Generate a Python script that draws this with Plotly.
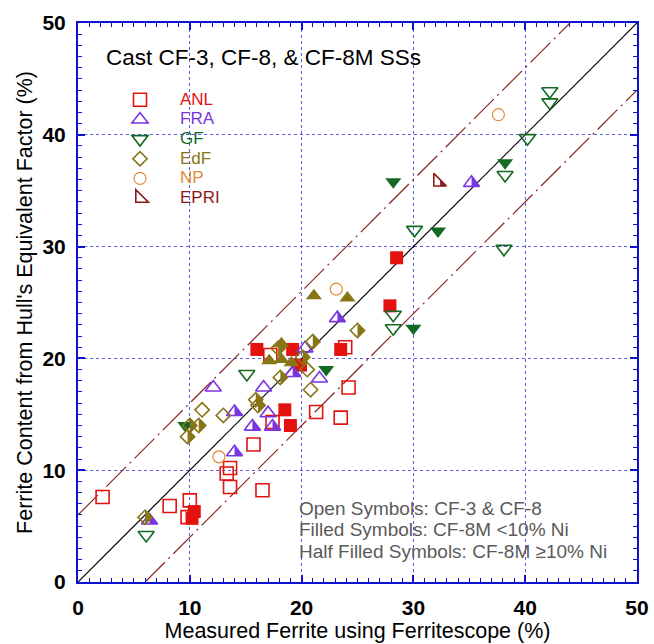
import plotly.graph_objects as go

# ---- data: measured ferrite (Ferritescope, %) vs. ferrite from Hull's equivalent factor (%) ----
anl_open_x = [2.2, 8.2, 10.0, 9.8, 13.6, 13.3, 13.6, 16.5, 15.7, 17.2, 17.4, 21.3, 23.5, 24.2, 23.9]
anl_open_y = [7.6, 6.8, 7.3, 5.8, 10.2, 9.7, 8.5, 8.2, 12.3, 20.3, 14.3, 15.2, 14.7, 17.4, 21.0]
anl_fill_x = [10.4, 10.2, 16.0, 19.2, 19.9, 18.5, 19.0, 23.5, 28.5, 27.9]
anl_fill_y = [6.3, 5.7, 20.8, 20.8, 19.4, 15.4, 14.0, 20.8, 29.0, 24.7]

fra_open_x = [12.1, 16.6, 17.0, 20.3, 21.6]
fra_open_y = [17.4, 17.4, 15.1, 20.9, 18.2]
fra_half_x = [6.4, 14.0, 14.0, 15.6, 17.4, 19.2, 23.2, 35.2]
fra_half_y = [5.5, 15.2, 11.6, 13.9, 13.9, 18.7, 23.6, 35.7]

gf_open_x = [6.1, 15.1, 28.2, 28.2, 30.1, 38.1, 38.2, 40.2, 42.2, 42.2]
gf_open_y = [4.2, 18.6, 23.9, 22.7, 31.5, 29.8, 36.4, 39.7, 43.9, 42.9]
gf_fill_x = [9.6, 22.2, 30.0, 28.2, 32.2, 38.2]
gf_fill_y = [14.0, 19.0, 22.7, 35.8, 31.4, 37.5]

edf_open_x = [11.1, 13.0, 20.5, 20.8]
edf_open_y = [15.4, 14.9, 19.0, 17.2]
edf_half_x = [6.0, 10.0, 9.8, 10.8, 15.9, 16.1, 18.1, 17.9, 20.1, 21.0, 25.0]
edf_half_y = [5.8, 14.0, 13.0, 14.0, 16.3, 15.8, 18.3, 20.9, 20.1, 21.5, 22.5]
edf_tri_x = [17.1, 18.2, 19.1, 18.2, 21.1, 24.1]
edf_tri_y = [19.8, 19.9, 19.6, 21.3, 25.6, 25.4]

np_x = [12.6, 23.1, 37.6]
np_y = [11.2, 26.2, 41.8]

epri_x = [32.2]
epri_y = [35.8]

# reference lines: 1:1 and +/- 6 % ferrite bands
line_offsets = [0, 6, -6]
axis_max = 50

labs = ["ANL", "FRA", "GF", "EdF", "NP", "EPRI"]
colors = {
    "ANL": "#E3120F",
    "FRA": "#7A35E0",
    "GF": "#146A22",
    "EdF": "#887516",
    "NP": "#E08A3C",
    "EPRI": "#8B1A1A",
}

note_lines = [
    "Open Symbols: CF-3 &amp; CF-8",
    "Filled Symbols: CF-8M &lt;10% Ni",
    "Half Filled Symbols: CF-8M ≥10% Ni",
]

FONT = "Arial, Liberation Sans, sans-serif"
W, H = 654, 644
ML, MR, MT, MB = 78, 17, 23, 62
PW, PH = W - ML - MR, H - MT - MB
PX = PW / axis_max  # pixels per data unit (square plot area)


def paper_x(px):
    return (px - ML) / PW


def paper_y(py):
    return (H - MB - py) / PH


# polygon (pixel offsets, y down) for the filled right half of each symbol
def half_pts(shape, size):
    r = size / 2
    if shape == "triangle-up":
        return [(0, -r), (0, r / 2), (1.155 * r, r / 2)]
    if shape == "diamond":
        rd = 1.3 * r
        return [(0, -rd), (rd, 0), (0, rd)]
    if shape == "triangle-sw":
        return [(0.3 * r, -0.3 * r), (0.3 * r, 0.6 * r), (1.2 * r, 0.6 * r)]
    return []


def half_fill_trace(xs, ys, shape, size, color):
    pts = half_pts(shape, size)
    X, Y = [], []
    for x, y in zip(xs, ys):
        for px, py in pts + [pts[0]]:
            X.append(x + px / PX)
            Y.append(y - py / PX)
        X.append(None)
        Y.append(None)
    return go.Scatter(x=X, y=Y, mode="lines", fill="toself", fillcolor=color,
                      line=dict(width=0, color=color), hoverinfo="skip",
                      showlegend=False)


def legend_name(lab):
    return f"<span style='color:{colors[lab]};font-size:17px'>{lab}</span>"


fig = go.Figure()

# reference lines
for off in line_offsets:
    xs = [max(0, -off), min(axis_max, axis_max - off)]
    ys = [x + off for x in xs]
    if off == 0:
        ln = dict(color="black", width=1.2)
    else:
        ln = dict(color="#8B2323", width=1.2, dash="28px,5px,2px,5px")
    fig.add_trace(go.Scatter(x=xs, y=ys, mode="lines", line=ln,
                             showlegend=False, hoverinfo="skip"))

SQ, TR, DI, CI = 13, 14, 11, 12
LW = 1.6

# ANL
fig.add_trace(go.Scatter(x=anl_open_x, y=anl_open_y, mode="markers", name=legend_name("ANL"),
                         marker=dict(symbol="square-open", size=SQ, color=colors["ANL"],
                                     line=dict(width=LW))))
fig.add_trace(go.Scatter(x=anl_fill_x, y=anl_fill_y, mode="markers", showlegend=False,
                         marker=dict(symbol="square", size=SQ, color=colors["ANL"],
                                     line=dict(width=0))))

# FRA
fig.add_trace(go.Scatter(x=fra_open_x, y=fra_open_y, mode="markers", name=legend_name("FRA"),
                         marker=dict(symbol="triangle-up-open", size=TR, color=colors["FRA"],
                                     line=dict(width=LW))))
fig.add_trace(half_fill_trace(fra_half_x, fra_half_y, "triangle-up", TR, colors["FRA"]))
fig.add_trace(go.Scatter(x=fra_half_x, y=fra_half_y, mode="markers", showlegend=False,
                         marker=dict(symbol="triangle-up-open", size=TR, color=colors["FRA"],
                                     line=dict(width=LW))))

# GF
fig.add_trace(go.Scatter(x=gf_open_x, y=gf_open_y, mode="markers", name=legend_name("GF"),
                         marker=dict(symbol="triangle-down-open", size=TR, color=colors["GF"],
                                     line=dict(width=LW))))
fig.add_trace(go.Scatter(x=gf_fill_x, y=gf_fill_y, mode="markers", showlegend=False,
                         marker=dict(symbol="triangle-down", size=TR, color=colors["GF"],
                                     line=dict(width=0))))

# EdF
fig.add_trace(go.Scatter(x=edf_open_x, y=edf_open_y, mode="markers", name=legend_name("EdF"),
                         marker=dict(symbol="diamond-open", size=DI, color=colors["EdF"],
                                     line=dict(width=LW))))
fig.add_trace(half_fill_trace(edf_half_x, edf_half_y, "diamond", DI, colors["EdF"]))
fig.add_trace(go.Scatter(x=edf_half_x, y=edf_half_y, mode="markers", showlegend=False,
                         marker=dict(symbol="diamond-open", size=DI, color=colors["EdF"],
                                     line=dict(width=LW))))
fig.add_trace(go.Scatter(x=edf_tri_x, y=edf_tri_y, mode="markers", showlegend=False,
                         marker=dict(symbol="triangle-up", size=TR, color=colors["EdF"],
                                     line=dict(width=0))))

# NP
fig.add_trace(go.Scatter(x=np_x, y=np_y, mode="markers", name=legend_name("NP"),
                         marker=dict(symbol="circle-open", size=CI, color=colors["NP"],
                                     line=dict(width=1.2))))

# EPRI
fig.add_trace(half_fill_trace(epri_x, epri_y, "triangle-sw", TR, colors["EPRI"]))
fig.add_trace(go.Scatter(x=epri_x, y=epri_y, mode="markers", name=legend_name("EPRI"),
                         marker=dict(symbol="triangle-sw-open", size=TR, color=colors["EPRI"],
                                     line=dict(width=LW))))

axis_common = dict(
    range=[0, axis_max], dtick=10, tick0=0,
    ticks="inside", ticklen=7, tickwidth=1.5, tickcolor="#1010D0",
    showline=True, linecolor="#1010D0", linewidth=2, mirror="allticks",
    showgrid=True, gridcolor="#5A5AEE", griddash="3px,3px", gridwidth=1,
    zeroline=False,
    minor=dict(dtick=1, ticks="inside", ticklen=4, tickcolor="#1010D0", tickwidth=1,
               showgrid=False),
    tickfont=dict(family=FONT, size=21, color="black", weight="bold"),
    ticklabelstandoff=6,
    fixedrange=True,
)

annotations = [
    dict(text="Cast CF-3, CF-8, & CF-8M SSs", xref="paper", yref="paper",
         x=paper_x(104), y=paper_y(58),
         xanchor="left", yanchor="middle", showarrow=False,
         font=dict(family=FONT, size=22.5, color="black")),
]
for i, line in enumerate(note_lines):
    annotations.append(
        dict(text=line, xref="paper", yref="paper",
             x=paper_x(297), y=paper_y(508 + 21.5 * i),
             xanchor="left", yanchor="middle", align="left", showarrow=False,
             font=dict(family=FONT, size=19, color="#5A5A5A")))

fig.update_layout(
    width=W, height=H,
    margin=dict(l=ML, r=MR, t=MT, b=MB, autoexpand=False),
    paper_bgcolor="white", plot_bgcolor="white",
    xaxis=dict(axis_common,
               title=dict(text="Measured Ferrite using Ferritescope (%)",
                          font=dict(family=FONT, size=21.5, color="black"), standoff=1)),
    yaxis=dict(axis_common,
               title=dict(text="Ferrite Content from Hull's Equivalent Factor (%)",
                          font=dict(family=FONT, size=21.5, color="black"), standoff=4)),
    legend=dict(x=paper_x(100), y=paper_y(85),
                xanchor="left", yanchor="top", bgcolor="rgba(0,0,0,0)",
                font=dict(family=FONT, size=12.8), itemwidth=70),
    showlegend=True,
    annotations=annotations,
)

fig.write_html("out.html")
